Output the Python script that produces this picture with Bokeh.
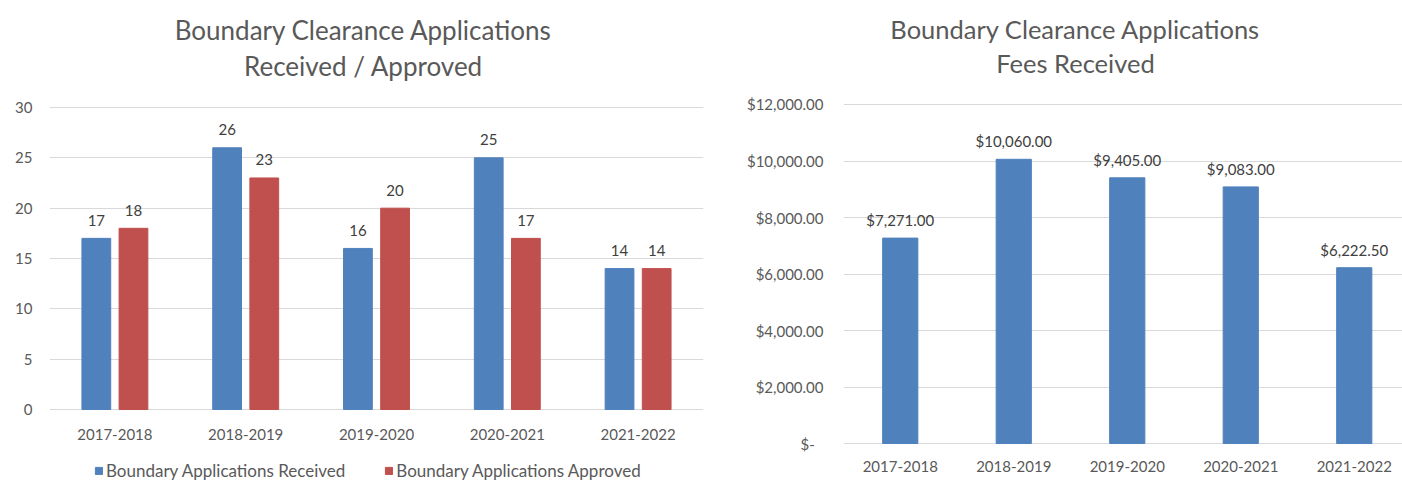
from bokeh.plotting import figure
from bokeh.models import (ColumnDataSource, Range1d, FixedTicker, Legend,
                          LegendItem, NumeralTickFormatter, Label)
from bokeh.layouts import row
from bokeh.embed import file_html
from bokeh.resources import INLINE
from bokeh.core.properties import value
from bokeh.transform import dodge

# ---------------- data ----------------
categories = ["2017-2018", "2018-2019", "2019-2020", "2020-2021", "2021-2022"]
received = [17, 26, 16, 25, 14]
approved = [18, 23, 20, 17, 14]
fees = [7271.00, 10060.00, 9405.00, 9083.00, 6222.50]
left_ticks = [0, 5, 10, 15, 20, 25, 30]
right_ticks = [0, 2000, 4000, 6000, 8000, 10000, 12000]
left_title = ["Boundary Clearance Applications", "Received / Approved"]
right_title = ["Boundary Clearance Applications", "Fees Received"]
series_names = ["Boundary Applications Received", "Boundary Applications Approved"]

BLUE = "#4F81BD"
RED = "#C0504D"
GRID = "#D9D9D9"
TXT = "#595959"
LBL = "#404040"
FONT = "Lato"

idx = list(range(len(categories)))


def add_titles(p, lines, x, ys, size):
    # screen positions measured from the frame's left / bottom edge
    for t, y in zip(lines, ys):
        p.add_layout(Label(x=x, y=y, x_units="screen", y_units="screen", text=t,
                           text_align="center", text_baseline="middle",
                           text_font=FONT, text_font_size=size,
                           text_color=TXT))


def style_plot(p, ystand, xstand):
    p.title.visible = False
    p.outline_line_color = None
    p.xgrid.grid_line_color = None
    p.ygrid.grid_line_color = GRID
    for ax in (p.xaxis[0], p.yaxis[0]):
        ax.axis_line_color = None
        ax.major_tick_line_color = None
        ax.minor_tick_line_color = None
        ax.major_tick_out = 0
        ax.major_tick_in = 0
        ax.major_label_text_font = FONT
        ax.major_label_text_font_size = "15px"
        ax.major_label_text_color = TXT
    p.yaxis[0].major_label_standoff = ystand
    p.xaxis[0].major_label_standoff = xstand
    p.xaxis[0].fixed_location = 0


# ---------------- left chart ----------------
src_l = ColumnDataSource(dict(
    x=idx, cat=categories, rec=received, app=approved,
    rec_t=[str(v) for v in received], app_t=[str(v) for v in approved]))

pl = figure(width=713, height=481, output_backend="svg", toolbar_location=None,
            x_range=Range1d(-0.5, 4.5), y_range=Range1d(-7.152, 40.629),
            min_border_left=49, min_border_right=10, min_border_top=0,
            min_border_bottom=0, sizing_mode="fixed")
pl.yaxis.ticker = FixedTicker(ticks=left_ticks)
pl.xaxis.ticker = FixedTicker(ticks=idx)
pl.xaxis.major_label_overrides = {i: c for i, c in zip(idx, categories)}

r1 = pl.vbar(x=dodge("x", -0.142), top="rec", bottom=0, width=0.22, source=src_l,
             fill_color=BLUE, line_color=BLUE)
r2 = pl.vbar(x=dodge("x", 0.142), top="app", bottom=0, width=0.22, source=src_l,
             fill_color=RED, line_color=RED)
pl.text(x=dodge("x", -0.142), y="rec", text="rec_t", source=src_l,
        text_align="center", text_baseline="middle", y_offset=-18,
        text_font=value(FONT), text_font_size="15px", text_color=LBL)
pl.text(x=dodge("x", 0.142), y="app", text="app_t", source=src_l,
        text_align="center", text_baseline="middle", y_offset=-18,
        text_font=value(FONT), text_font_size="15px", text_color=LBL)

legend = Legend(items=[LegendItem(label=series_names[0], renderers=[r1]),
                       LegendItem(label=series_names[1], renderers=[r2])],
                orientation="horizontal", location=(45, 0),
                border_line_color=None, background_fill_alpha=0,
                padding=0, margin=0, spacing=39,
                glyph_width=9, glyph_height=9, label_height=14,
                label_standoff=3, label_text_font=FONT,
                label_text_font_size="17px", label_text_color=TXT)
pl.add_layout(legend, "center")

add_titles(pl, left_title, 314, [452, 416], "26px")
style_plot(pl, 17, 19)

# ---------------- right chart ----------------
src_r = ColumnDataSource(dict(x=idx, fee=fees,
                              fee_t=["${:,.2f}".format(v) for v in fees]))

pr = figure(width=689, height=481, output_backend="svg", toolbar_location=None,
            x_range=Range1d(-0.5, 4.425), y_range=Range1d(-1345.1, 15681.4),
            min_border_left=130, min_border_right=0, min_border_top=0,
            min_border_bottom=0, sizing_mode="fixed")
pr.yaxis.ticker = FixedTicker(ticks=right_ticks)
pr.yaxis.formatter = NumeralTickFormatter(format="$0,0.00")
pr.yaxis.major_label_overrides = {0: "$-\u2007"}
pr.xaxis.ticker = FixedTicker(ticks=idx)
pr.xaxis.major_label_overrides = {i: c for i, c in zip(idx, categories)}

pr.vbar(x="x", top="fee", bottom=0, width=0.31, source=src_r,
        fill_color=BLUE, line_color=BLUE)
pr.text(x="x", y="fee", text="fee_t", source=src_r,
        text_align="center", text_baseline="middle", y_offset=-18,
        text_font=value(FONT), text_font_size="15px", text_color=LBL)

add_titles(pr, right_title, 232, [453, 419], "25.5px")
style_plot(pr, 20, 17)

layout = row(pl, pr, sizing_mode="fixed")
open("out.html", "w").write(file_html(layout, INLINE))
